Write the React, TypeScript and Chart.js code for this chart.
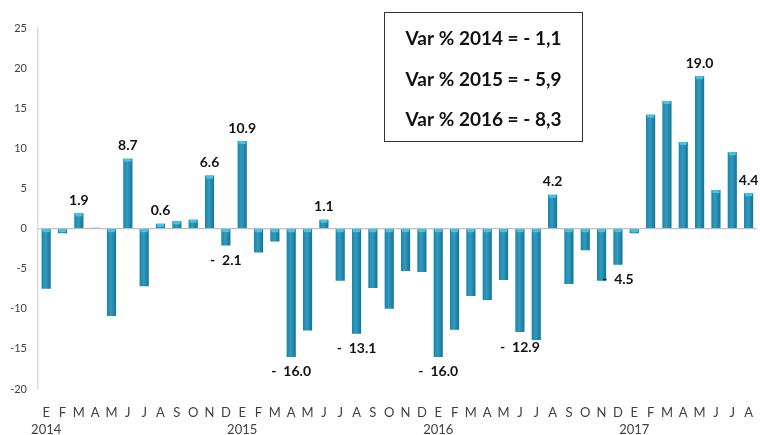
import React, { useEffect, useRef } from "react";
import { Chart, registerables } from "chart.js";

Chart.register(...registerables);

const months = ["E", "F", "M", "A", "M", "J", "J", "A", "S", "O", "N", "D"];
const years = ["2014", "2015", "2016", "2017"];
const monthsIn2017 = 8;

const values2014 = [-7.5, -0.6, 1.9, 0.1, -10.9, 8.7, -7.2, 0.6, 0.9, 1.1, 6.6, -2.1];
const values2015 = [10.9, -3.0, -1.6, -16.0, -12.7, 1.1, -6.5, -13.1, -7.4, -10.0, -5.3, -5.4];
const values2016 = [-16.0, -12.6, -8.4, -8.9, -6.4, -12.9, -13.9, 4.2, -6.9, -2.7, -6.5, -4.5];
const values2017 = [-0.6, 14.2, 15.9, 10.8, 19.0, 4.8, 9.5, 4.4];

// which bars carry a value label (index within the full series)
const labelledIndexes = [2, 5, 7, 10, 11, 12, 15, 17, 19, 24, 29, 31, 35, 40, 43];

const boxLines = [
  "Var % 2014 = - 1,1",
  "Var % 2015 = - 5,9",
  "Var % 2016 = - 8,3",
];

const yMin = -20;
const yMax = 25;
const yStep = 5;

const values = [...values2014, ...values2015, ...values2016, ...values2017];
const categories: (string | string[])[] = [];
years.forEach((yr, yi) => {
  const n = yi === years.length - 1 ? monthsIn2017 : 12;
  for (let m = 0; m < n; m++) {
    categories.push(m === 0 ? [months[m], yr] : months[m]);
  }
});

function fmt(v: number) {
  return v < 0 ? "-  " + Math.abs(v).toFixed(1) : v.toFixed(1);
}

export default function App() {
  const ref = useRef<HTMLCanvasElement | null>(null);

  useEffect(() => {
    document.body.style.margin = "0";
    const canvas = ref.current;
    if (!canvas) return;

    const decorPlugin = {
      id: "decor",
      afterDatasetsDraw(chart: any) {
        const ctx = chart.ctx;
        const meta = chart.getDatasetMeta(0);
        ctx.save();
        // bar caps
        meta.data.forEach((bar: any) => {
          const top = Math.min(bar.y, bar.base);
          const h = Math.abs(bar.y - bar.base);
          if (h < 1) return;
          const w = bar.width;
          const g = ctx.createLinearGradient(bar.x - w / 2, 0, bar.x + w / 2, 0);
          g.addColorStop(0, "rgba(255,255,255,0)");
          g.addColorStop(0.45, "rgba(255,255,255,0.15)");
          g.addColorStop(1, "rgba(0,0,0,0.12)");
          ctx.fillStyle = g;
          ctx.fillRect(bar.x - w / 2, top, w, h);
          ctx.fillStyle = "#45c4e6";
          ctx.fillRect(bar.x - w / 2 + 1, top, w - 2, Math.min(3, h));
        });
        // value labels
        ctx.font = "bold 14px Lato, 'Liberation Sans', sans-serif";
        ctx.fillStyle = "#111";
        ctx.textAlign = "center";
        ctx.textBaseline = "middle";
        labelledIndexes.forEach((i) => {
          const bar: any = meta.data[i];
          const v = values[i];
          const y = v >= 0 ? bar.y - 13 : bar.y + 15;
          ctx.fillText(fmt(v), bar.x, y);
        });
        ctx.restore();
      },
      afterDraw(chart: any) {
        const ctx = chart.ctx;
        ctx.save();
        const bx = 384.5, by = 12.5, bw = 198, bh = 129;
        ctx.fillStyle = "#fff";
        ctx.fillRect(bx, by, bw, bh);
        ctx.strokeStyle = "#333";
        ctx.lineWidth = 1;
        ctx.strokeRect(bx, by, bw, bh);
        ctx.font = "bold 19px Lato, 'Liberation Sans', sans-serif";
        ctx.fillStyle = "#111";
        ctx.textAlign = "center";
        ctx.textBaseline = "middle";
        const cys = [39, 80, 120];
        boxLines.forEach((t, i) => ctx.fillText(t, bx + bw / 2, cys[i]));
        ctx.restore();
      },
    };

    const chart = new Chart(canvas, {
      type: "bar",
      data: {
        labels: categories,
        datasets: [
          {
            data: values,
            backgroundColor: "#1487b0",
            borderWidth: 0,
            barPercentage: 0.56,
            categoryPercentage: 1,
          },
        ],
      },
      options: {
        responsive: false,
        animation: false,
        layout: { padding: { top: 28, right: 0, bottom: 0, left: 0 } },
        plugins: {
          legend: { display: false },
          tooltip: { enabled: false },
        },
        scales: {
          x: {
            grid: { display: false },
            border: { display: false },
            ticks: {
              autoSkip: false,
              maxRotation: 0,
              minRotation: 0,
              padding: 7,
              color: "#404040",
              font: { family: "Lato, 'Liberation Sans', sans-serif", size: 13, lineHeight: 1.3 },
            },
            afterFit(scale: any) {
              scale.height = 46;
            },
          },
          y: {
            min: yMin,
            max: yMax,
            grid: {
              drawTicks: false,
              color: (c: any) => (c.tick && c.tick.value === 0 ? "#bfbfbf" : "rgba(0,0,0,0)"),
              lineWidth: 1.2,
            },
            border: { display: true, color: "#dcdcdc", width: 1.5 },
            ticks: {
              stepSize: yStep,
              padding: 11,
              color: "#404040",
              font: { family: "Lato, 'Liberation Sans', sans-serif", size: 11 },
            },
            afterFit(scale: any) {
              scale.width = 38;
            },
          },
        },
      },
      plugins: [decorPlugin],
    } as any);

    return () => chart.destroy();
  }, []);

  return <canvas ref={ref} width={760} height={435} style={{ display: "block" }} />;
}
